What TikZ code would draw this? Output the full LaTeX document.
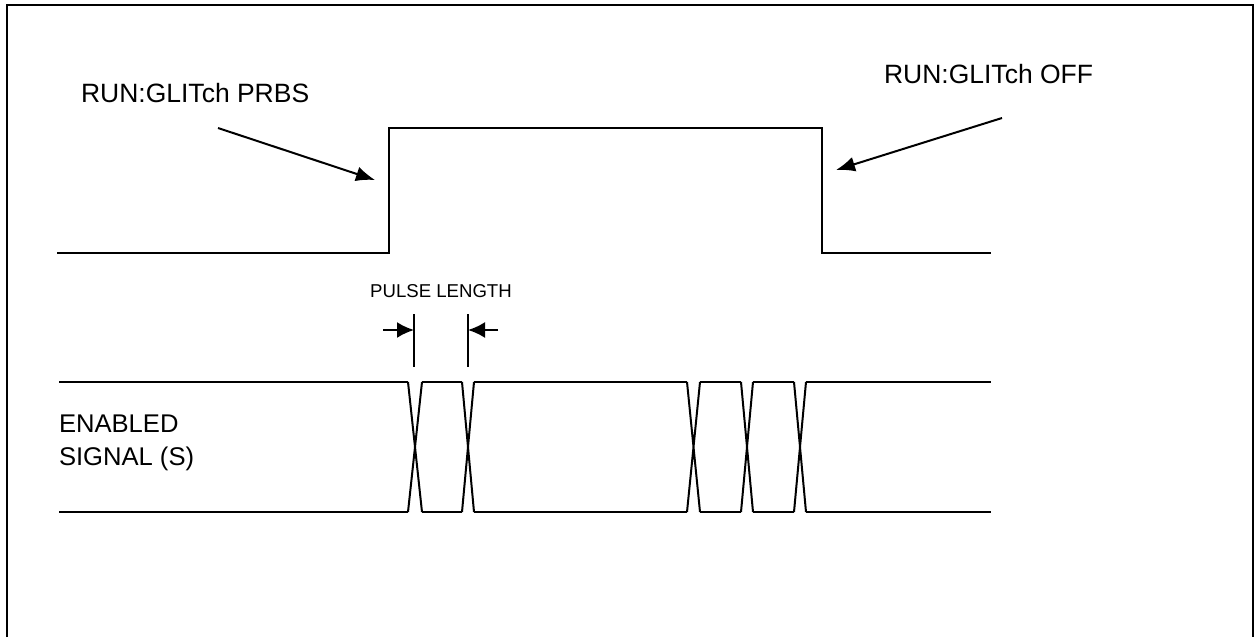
\documentclass[tikz,border=0pt]{standalone}
\usepackage{fontspec}
\setmainfont{Liberation Sans}
\usetikzlibrary{arrows.meta}
\begin{document}
\begin{tikzpicture}[x=1pt,y=-1pt,line width=2pt,
    lbl/.style={inner sep=0pt,font=\fontsize{26.5}{30}\selectfont},
    pointer/.style={-{Latex[length=19pt,width=15pt]}},
    dimarrow/.style={-{Latex[length=17pt,width=16pt]}}]
            \useasboundingbox (0,0) rectangle (1255,637);
            \draw (6.5,637) -- (6.5,4.5) -- (1253,4.5) -- (1253,637);

            % glitch control line
            \draw (57,253) -- (389,253) -- (389,128) -- (822,128) -- (822,253) -- (991,253);
            \node[lbl,anchor=base west] (prbs) at (80,102) {RUN:GLITch PRBS};
            \node[lbl,anchor=base west] (off) at (883,83) {RUN:GLITch OFF};
            \coordinate (prbsfrom) at (218,128);
            \coordinate (prbsto) at (375,180);
            \coordinate (offfrom) at (1002,118);
            \coordinate (offto) at (836,170);
            \draw[pointer] (prbsfrom) -- (prbsto);
            \draw[pointer] (offfrom) -- (offto);

            % pulse length
            \node[inner sep=0pt,font=\fontsize{18.6}{20}\selectfont,anchor=base] (plen) at (441,297) {PULSE LENGTH};
            \draw (414,314) -- (414,367);
            \draw (468,314) -- (468,367);
            \coordinate (pl1) at (383,330);
            \coordinate (pl2) at (414,330);
            \coordinate (pr1) at (498,330);
            \coordinate (pr2) at (468,330);
            \draw[dimarrow] (pl1) -- (pl2);
            \draw[dimarrow] (pr1) -- (pr2);

            % enabled signal
            \foreach \s/\e in {59/408,422/462,474/687,700/741,753/794,806/991}
                \draw (\s,382) -- (\e,382) (\s,512) -- (\e,512);
            \foreach \a/\b in {408/422,462/474,687/700,741/753,794/806}
                \draw (\a,382) -- (\b,512) (\b,382) -- (\a,512);
            \node[inner sep=0pt,font=\fontsize{25.6}{33}\selectfont,align=left,anchor=west] (sig) at (58,443) {ENABLED\\SIGNAL (S)};
\end{tikzpicture}
\end{document}
